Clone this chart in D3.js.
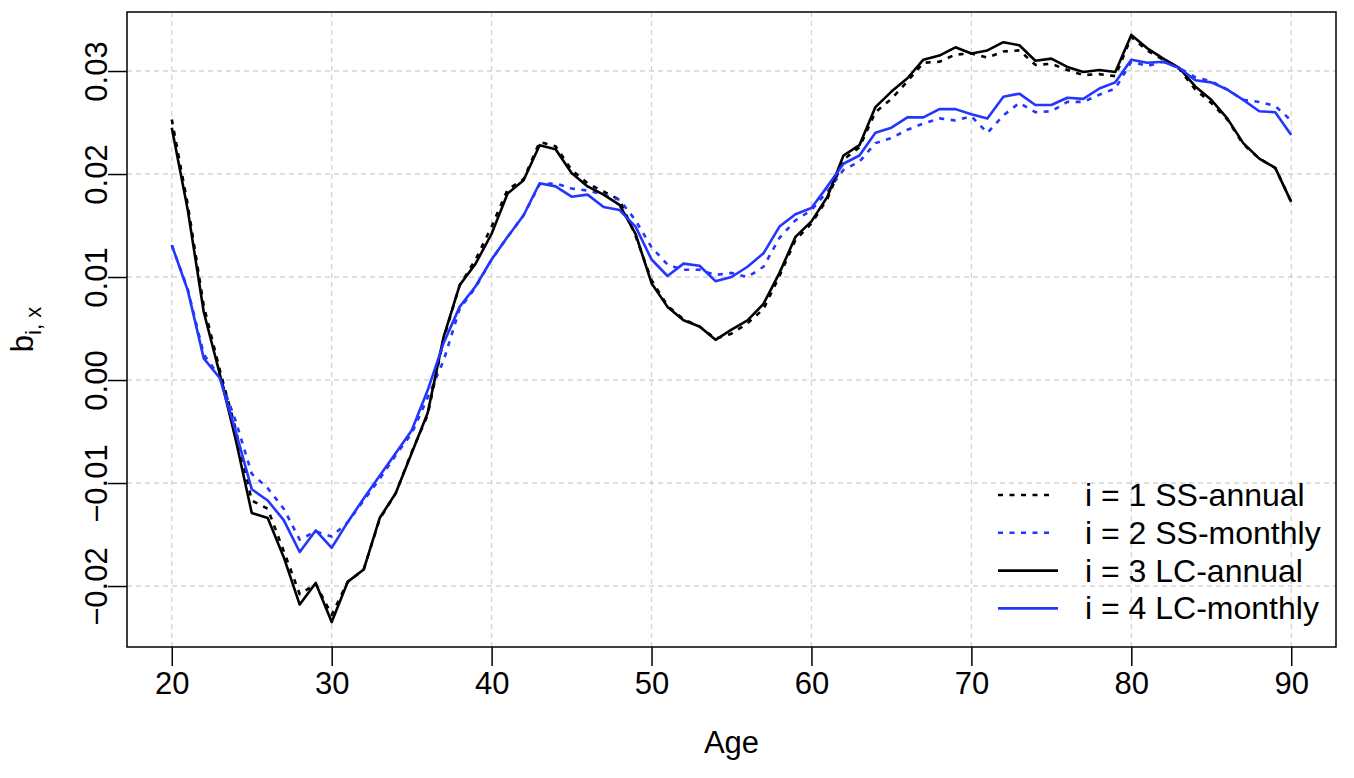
<!DOCTYPE html>
<html>
<head>
<meta charset="utf-8">
<script src="https://cdn.jsdelivr.net/npm/d3@7"></script>
<style>
  body { margin: 0; background: #fff; }
  text { font-family: "Liberation Sans", Arial, sans-serif; fill: #000; }
</style>
</head>
<body>
<div id="chart"></div>
<script>
// ages on the x axis
var ages = d3.range(20, 91)

// b_{i,x}, one array per model
var ssAnnual = [0.0253, 0.0170, 0.0072, 0.0010, -0.0048, -0.0117, -0.0125, -0.0166, -0.0208, -0.0198,
  -0.0228, -0.0196, -0.0184, -0.0135, -0.0110, -0.0070, -0.0034, 0.0040, 0.0092, 0.0117,
  0.0149, 0.0185, 0.0195, 0.0231, 0.0227, 0.0204, 0.0191, 0.0183, 0.0175, 0.0140,
  0.0097, 0.0072, 0.0059, 0.0052, 0.0040, 0.0045, 0.0055, 0.0069, 0.0101, 0.0136,
  0.0152, 0.0176, 0.0214, 0.0226, 0.0260, 0.0273, 0.0290, 0.0308, 0.0309, 0.0316,
  0.0317, 0.0313, 0.0319, 0.0320, 0.0306, 0.0307, 0.0301, 0.0296, 0.0297, 0.0295,
  0.0333, 0.0320, 0.0311, 0.0302, 0.0282, 0.0269, 0.0253, 0.0229, 0.0215, 0.0206,
  0.0173]

var ssMonthly = [0.0131, 0.0088, 0.0025, 0.0003, -0.0040, -0.0091, -0.0105, -0.0125, -0.0155, -0.0147,
  -0.0152, -0.0138, -0.0117, -0.0096, -0.0073, -0.0052, -0.0017, 0.0019, 0.0069, 0.0090,
  0.0117, 0.0139, 0.0160, 0.0190, 0.0191, 0.0186, 0.0184, 0.0180, 0.0175, 0.0155,
  0.0129, 0.0112, 0.0107, 0.0107, 0.0102, 0.0104, 0.0100, 0.0110, 0.0138, 0.0155,
  0.0165, 0.0183, 0.0204, 0.0212, 0.0230, 0.0235, 0.0243, 0.0249, 0.0254, 0.0252,
  0.0256, 0.0240, 0.0257, 0.0269, 0.0260, 0.0261, 0.0270, 0.0270, 0.0277, 0.0283,
  0.0309, 0.0305, 0.0309, 0.0303, 0.0294, 0.0290, 0.0282, 0.0272, 0.0270, 0.0266,
  0.0252]

var lcAnnual = [0.0245, 0.0165, 0.0066, 0.0006, -0.0058, -0.0129, -0.0134, -0.0172, -0.0218, -0.0197,
  -0.0235, -0.0196, -0.0184, -0.0134, -0.0110, -0.0071, -0.0032, 0.0042, 0.0092, 0.0113,
  0.0142, 0.0181, 0.0194, 0.0228, 0.0224, 0.0201, 0.0188, 0.0180, 0.0170, 0.0142,
  0.0094, 0.0071, 0.0058, 0.0052, 0.0039, 0.0049, 0.0058, 0.0074, 0.0104, 0.0139,
  0.0154, 0.0178, 0.0218, 0.0228, 0.0265, 0.0280, 0.0293, 0.0311, 0.0315, 0.0323,
  0.0317, 0.0320, 0.0328, 0.0325, 0.0310, 0.0312, 0.0304, 0.0299, 0.0301, 0.0299,
  0.0335, 0.0322, 0.0312, 0.0303, 0.0285, 0.0272, 0.0254, 0.0230, 0.0215, 0.0206,
  0.0173]

var lcMonthly = [0.0131, 0.0087, 0.0021, 0.0002, -0.0050, -0.0106, -0.0117, -0.0136, -0.0167, -0.0146,
  -0.0163, -0.0138, -0.0115, -0.0093, -0.0071, -0.0049, -0.0010, 0.0036, 0.0071, 0.0091,
  0.0117, 0.0139, 0.0160, 0.0191, 0.0188, 0.0178, 0.0180, 0.0168, 0.0165, 0.0149,
  0.0117, 0.0101, 0.0113, 0.0111, 0.0096, 0.0100, 0.0110, 0.0123, 0.0149, 0.0161,
  0.0167, 0.0188, 0.0210, 0.0218, 0.0240, 0.0245, 0.0255, 0.0255, 0.0263, 0.0263,
  0.0258, 0.0254, 0.0275, 0.0278, 0.0267, 0.0267, 0.0274, 0.0273, 0.0283, 0.0289,
  0.0311, 0.0308, 0.0309, 0.0303, 0.0291, 0.0289, 0.0282, 0.0272, 0.0261, 0.0260,
  0.0238]

var seriesNames = ['i = 1 SS-annual', 'i = 2 SS-monthly', 'i = 3 LC-annual', 'i = 4 LC-monthly']
var xTicks = [20, 30, 40, 50, 60, 70, 80, 90]
var yTicks = [-0.02, -0.01, 0, 0.01, 0.02, 0.03]

var blue = '#2236ff'
var series = [
  { name: seriesNames[0], values: ssAnnual, color: '#000', dash: '5,6.5' },
  { name: seriesNames[1], values: ssMonthly, color: blue, dash: '5,6.5' },
  { name: seriesNames[2], values: lcAnnual, color: '#000', dash: null },
  { name: seriesNames[3], values: lcMonthly, color: blue, dash: null }
]

var W = 1354
var H = 778
// plot box edges (top is a reserved global in browsers, so avoid it)
var box = { left: 127, right: 1336, top: 12, bottom: 647 }
var fontSize = 31

var svg = d3.select('#chart')
  .append('svg')
  .attr('width', W)
  .attr('height', H)

var x = d3.scaleLinear().domain([17.2, 92.8]).range([box.left, box.right])
var y = d3.scaleLinear().domain([-0.02592, 0.03573]).range([box.bottom, box.top])

// dashed grey grid
var grid = svg.append('g')
  .attr('stroke', '#d3d3d3')
  .attr('stroke-width', 1.3)
  .attr('stroke-dasharray', '5,4')

grid.selectAll('.vx')
  .data(xTicks)
  .enter()
  .append('line')
  .attr('x1', d => x(d))
  .attr('x2', d => x(d))
  .attr('y1', box.top)
  .attr('y2', box.bottom)

grid.selectAll('.hy')
  .data(yTicks)
  .enter()
  .append('line')
  .attr('x1', box.left)
  .attr('x2', box.right)
  .attr('y1', d => y(d))
  .attr('y2', d => y(d))

// the lines
var line = d3.line()
  .x((d, i) => x(ages[i]))
  .y(d => y(d))

svg.selectAll('.series')
  .data(series)
  .enter()
  .append('path')
  .attr('d', d => line(d.values))
  .attr('fill', 'none')
  .attr('stroke', d => d.color)
  .attr('stroke-width', 2.6)
  .attr('stroke-linejoin', 'round')
  .attr('stroke-dasharray', d => d.dash)

// axes
var xAxis = svg.append('g')
  .attr('transform', 'translate(0,' + box.bottom + ')')
  .call(d3.axisBottom(x).tickValues(xTicks).tickSize(19).tickPadding(6).tickFormat(d3.format('d')))

xAxis.select('.domain').remove()
xAxis.selectAll('line').attr('stroke-width', 1.5)
xAxis.selectAll('text')
  .attr('font-size', fontSize)
  .attr('font-family', '"Liberation Sans", Arial, sans-serif')

var yAxis = svg.append('g')
  .attr('transform', 'translate(' + box.left + ',0)')
  .call(d3.axisLeft(y).tickValues(yTicks).tickSize(19).tickFormat(d3.format('.2f')))

yAxis.select('.domain').remove()
yAxis.selectAll('line').attr('stroke-width', 1.5)
yAxis.selectAll('text')
  .attr('x', null)
  .attr('dy', null)
  .attr('text-anchor', 'middle')
  .attr('transform', 'translate(-20,0) rotate(-90)')
  .attr('font-size', fontSize)
  .attr('font-family', '"Liberation Sans", Arial, sans-serif')

// box round the plot
svg.append('rect')
  .attr('x', box.left)
  .attr('y', box.top)
  .attr('width', box.right - box.left)
  .attr('height', box.bottom - box.top)
  .attr('fill', 'none')
  .attr('stroke', '#000')
  .attr('stroke-width', 1.5)

// axis titles
svg.append('text')
  .attr('x', (box.left + box.right) / 2)
  .attr('y', 753)
  .attr('text-anchor', 'middle')
  .attr('font-size', fontSize)
  .text('Age')

var ylab = svg.append('text')
  .attr('transform', 'translate(33,' + (box.top + box.bottom) / 2 + ') rotate(-90)')
  .attr('text-anchor', 'middle')
  .attr('font-size', fontSize)
ylab.append('tspan').text('b')
ylab.append('tspan')
  .attr('font-size', 22)
  .attr('dy', 8)
  .text('i, x')

// legend, no box
var legend = svg.append('g')
  .selectAll('.leg')
  .data(series)
  .enter()
  .append('g')
  .attr('transform', (d, i) => 'translate(998,' + (495 + i * 37.8) + ')')

legend.append('line')
  .attr('x1', 0)
  .attr('x2', d => d.dash ? 54 : 60)
  .attr('y1', 0)
  .attr('y2', 0)
  .attr('stroke', d => d.color)
  .attr('stroke-width', 2.6)
  .attr('stroke-dasharray', d => d.dash)

legend.append('text')
  .attr('x', 87)
  .attr('y', 11)
  .attr('font-size', 32)
  .text(d => d.name)
</script>
</body>
</html>
